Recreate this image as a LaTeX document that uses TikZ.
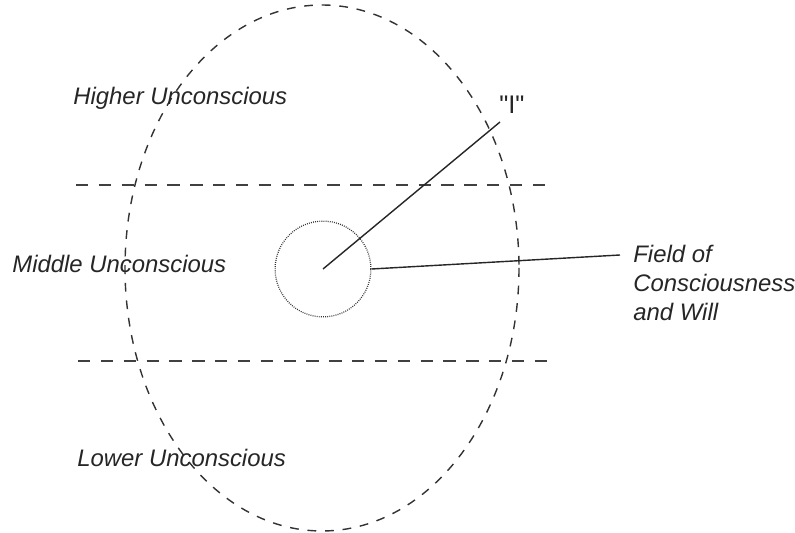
\documentclass[tikz,border=0pt]{standalone}
\usepackage{fontspec}
\setmainfont{Liberation Sans}[Ligatures=TeXOff]
\usepackage{tikz}
\usetikzlibrary{positioning,calc}
\tikzset{
  zone/.style={dash pattern=on 5pt off 5pt, line width=0.8pt, color=black!80},
  divider/.style={dash pattern=on 7pt off 6pt, line width=0.8pt, color=black!75},
  fieldring/.style={circle, draw=black!80, dash pattern=on 0.5pt off 0.7pt,
                    line width=0.7pt, minimum size=54.5pt, inner sep=0pt},
  lbl/.style={font=\fontsize{13.6}{16.5}\selectfont\itshape, text=black!85,
              inner sep=0pt},
  link/.style={line width=0.8pt, color=black!85},
}
\begin{document}
\begin{tikzpicture}[x=0.02cm, y=-0.02cm]
    \useasboundingbox (0,0) rectangle (795,533);
    % psyche outline
    \coordinate (psyche) at (322,268);
    \draw[zone] (psyche) ellipse [x radius=197, y radius=263];
    % levels
    \coordinate (upL) at (76,185);  \coordinate (upR) at (546,185);
    \coordinate (loL) at (78,361);  \coordinate (loR) at (550,361);
    \draw[divider] (upL)--(upR);
    \draw[divider] (loL)--(loR);
    \node[lbl, anchor=west] (higher) at (73,98) {Higher Unconscious};
    \node[lbl, anchor=west] (middle) at (12,264) {Middle Unconscious};
    \node[lbl, anchor=west] (lower)  at (77,458) {Lower Unconscious};
    % field of consciousness and the self
    \node[fieldring] (field) at (323,269) {};
    \coordinate (self) at (field.center);
    \coordinate (itip) at (500,122);
    \node[lbl, font=\fontsize{14.5}{16}\selectfont, anchor=south west]
      (ilabel) at (499,114) {"I"};
    \draw[link] (self)--(itip);
    \coordinate (ftip) at (620,255);
    \node[lbl, align=left, anchor=north west] (fieldlabel) at (633,245)
      {Field of\\Consciousness\\and Will};
    \draw[link] (field.east)--(ftip);
  \end{tikzpicture}
\end{document}
